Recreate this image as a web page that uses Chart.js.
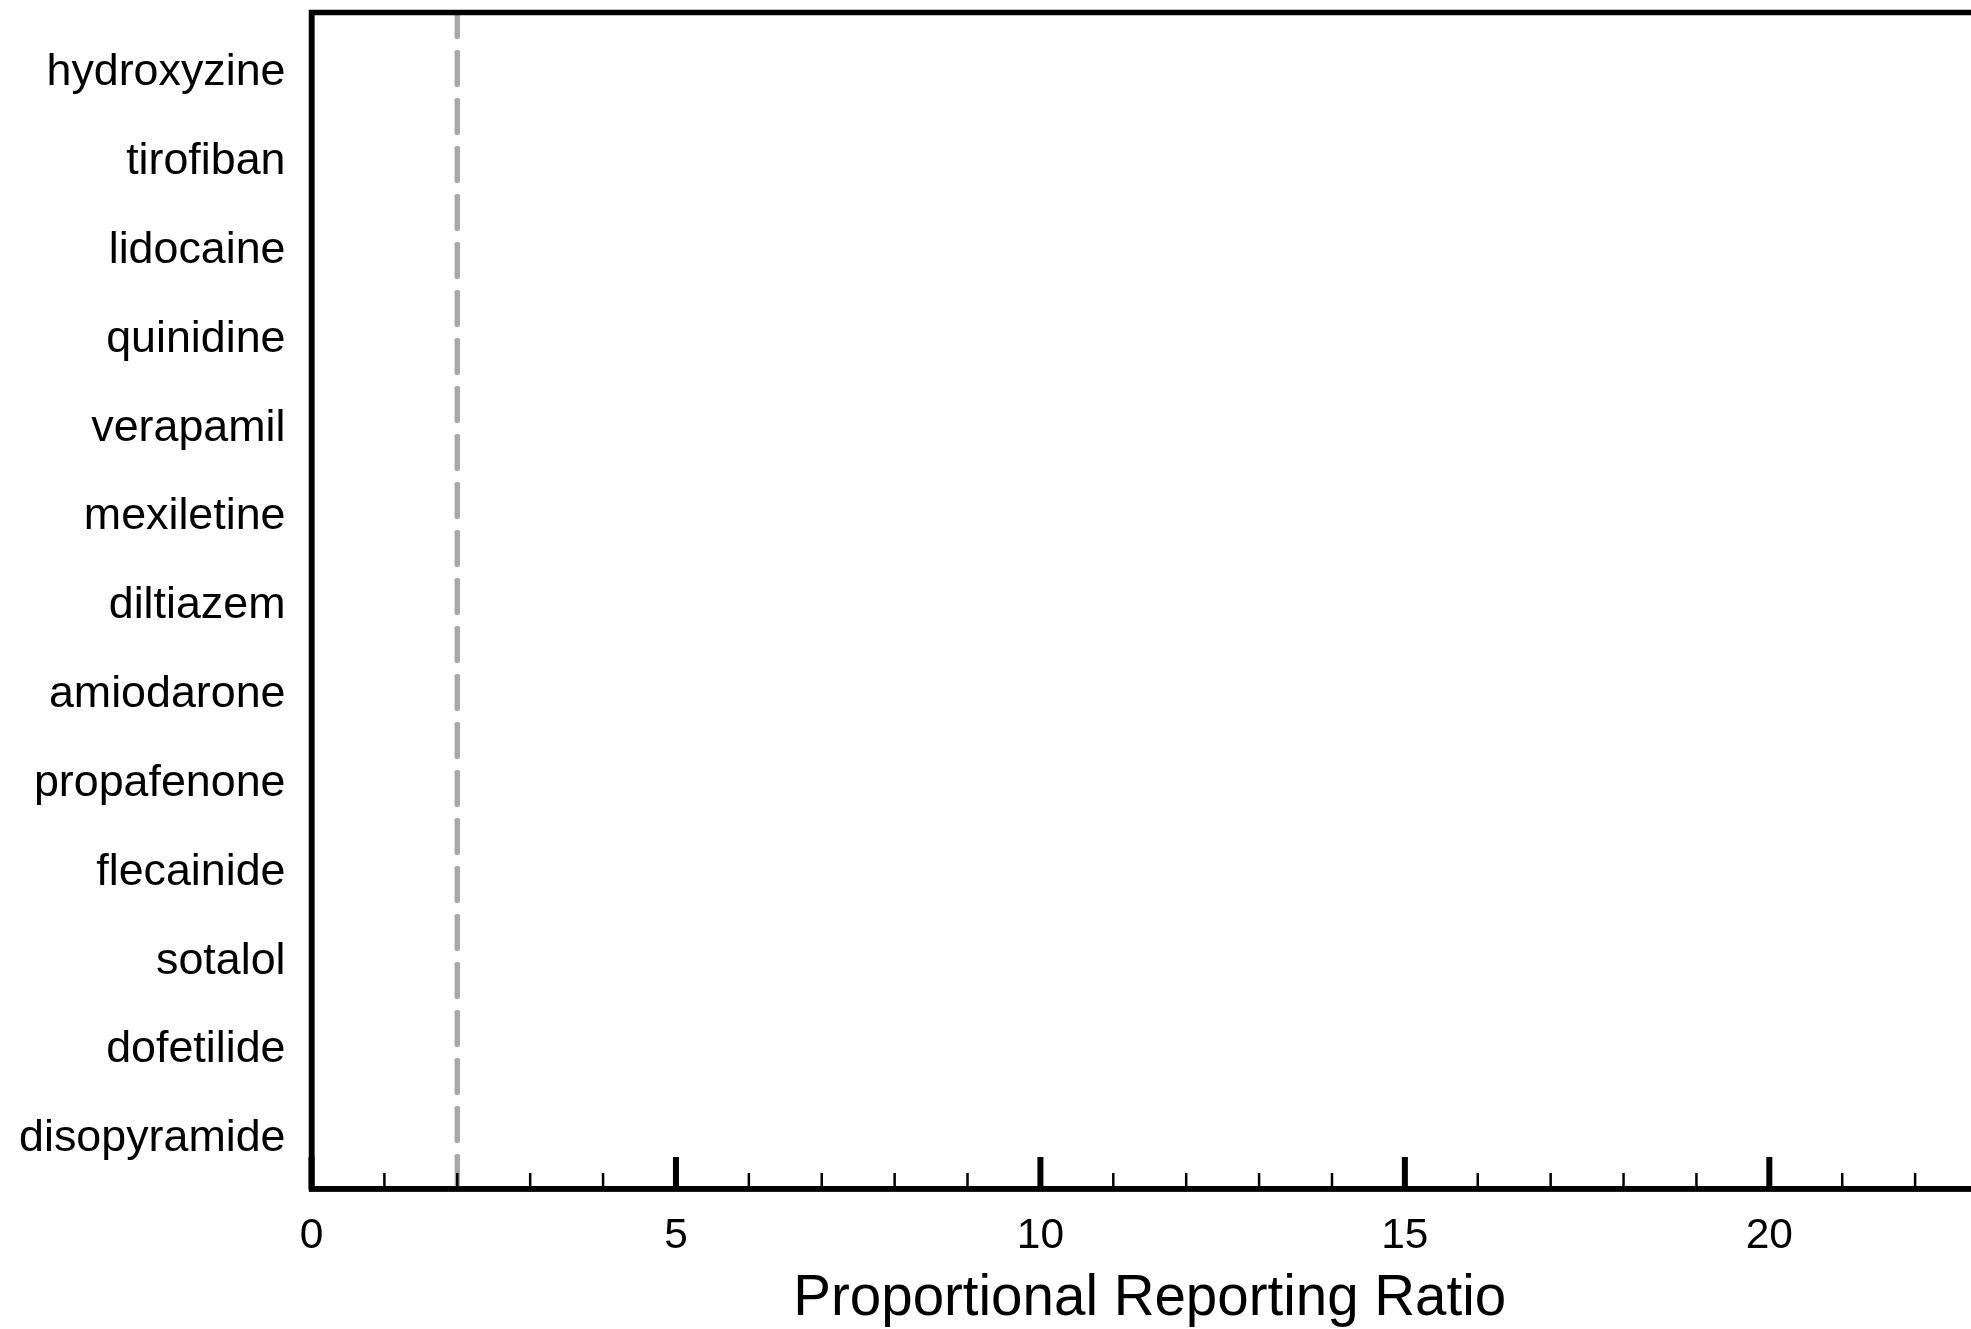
<!DOCTYPE html>
<html>
<head>
<meta charset="utf-8">
<script src="https://cdn.jsdelivr.net/npm/chart.js@4.4.1/dist/chart.umd.min.js"></script>
<style>
html,body{margin:0;padding:0;background:#fff;overflow:hidden;width:1971px;height:1329px}
canvas{display:block}
</style>
</head>
<body>
<canvas id="c" width="2000" height="1329"></canvas>
<script>
// ---- data ----
const DRUGS = ['hydroxyzine','tirofiban','lidocaine','quinidine','verapamil','mexiletine','diltiazem','amiodarone','propafenone','flecainide','sotalol','dofetilide','disopyramide'];
const PRR_THRESHOLD = [2];
const X_TICKS = [0,1,2,3,4,5,6,7,8,9,10,11,12,13,14,15,16,17,18,19,20,21,22,23];
const X_MAJOR_TICKS = [0,5,10,15,20];
const X_TITLE = 'Proportional Reporting Ratio';

const FONT = '"Liberation Sans", Arial, Helvetica, sans-serif';
const Y_MIN = -0.68, Y_MAX = DRUGS.length - 1 + 0.565;

const frameAndTicks = {
  id: 'frameAndTicks',
  afterDraw(chart) {
    const {ctx, chartArea: a, scales: {x}} = chart;
    ctx.save();
    ctx.strokeStyle = '#000';
    ctx.lineCap = 'butt';
    x.ticks.forEach(t => {
      const px = x.getPixelForValue(t.value);
      const major = X_MAJOR_TICKS.includes(t.value);
      ctx.lineWidth = major ? 6 : 2.5;
      ctx.beginPath();
      ctx.moveTo(px, a.bottom);
      ctx.lineTo(px, a.bottom - (major ? 32 : 16));
      ctx.stroke();
    });
    ctx.lineWidth = 5.5;
    ctx.lineJoin = 'miter';
    ctx.strokeRect(a.left, a.top, a.right - a.left, a.bottom - a.top);
    ctx.restore();
  }
};

new Chart(document.getElementById('c'), {
  type: 'scatter',
  data: {
    datasets: [{
      label: 'PRR threshold',
      showLine: true,
      data: [{x: PRR_THRESHOLD[0], y: Y_MIN}, {x: PRR_THRESHOLD[0], y: Y_MAX}],
      borderColor: '#a9a9a9',
      borderWidth: 5.5,
      borderDash: [32, 16],
      borderDashOffset: 8,
      borderCapStyle: 'round',
      pointRadius: 0,
      pointHoverRadius: 0
    }]
  },
  options: {
    responsive: false,
    devicePixelRatio: 1,
    animation: false,
    events: [],
    layout: {padding: {top: 12.5, right: 12, left: 0, bottom: 0}},
    plugins: {legend: {display: false}, tooltip: {enabled: false}},
    scales: {
      x: {
        type: 'linear',
        position: 'bottom',
        min: 0,
        max: 23,
        afterBuildTicks: s => { s.ticks = X_TICKS.map(v => ({value: v})); },
        afterFit: s => { s.height = 140; s.paddingLeft = 0; s.paddingRight = 0; },
        ticks: {
          autoSkip: false,
          maxRotation: 0,
          color: '#000',
          padding: 21.5,
          font: {family: FONT, size: 42.5},
          callback: v => X_MAJOR_TICKS.includes(v) ? String(v) : ''
        },
        grid: {display: false, drawTicks: false},
        border: {display: true, width: 5.5, color: '#000'},
        title: {
          display: true,
          text: X_TITLE,
          color: '#000',
          font: {family: FONT, size: 56.5, lineHeight: 1.0},
          padding: {top: 0, bottom: 1.5}
        }
      },
      y: {
        type: 'linear',
        reverse: true,
        min: Y_MIN,
        max: Y_MAX,
        afterBuildTicks: s => { s.ticks = DRUGS.map((_, i) => ({value: i})); },
        afterFit: s => { s.width = 311.5; s.paddingTop = 0; s.paddingBottom = 0; },
        ticks: {
          autoSkip: false,
          color: '#000',
          padding: 26,
          font: {family: FONT, size: 44.8},
          callback: v => DRUGS[v] !== undefined ? DRUGS[v] : ''
        },
        grid: {display: false, drawTicks: false},
        border: {display: true, width: 5.5, color: '#000'}
      }
    }
  },
  plugins: [frameAndTicks]
});
</script>
</body>
</html>
